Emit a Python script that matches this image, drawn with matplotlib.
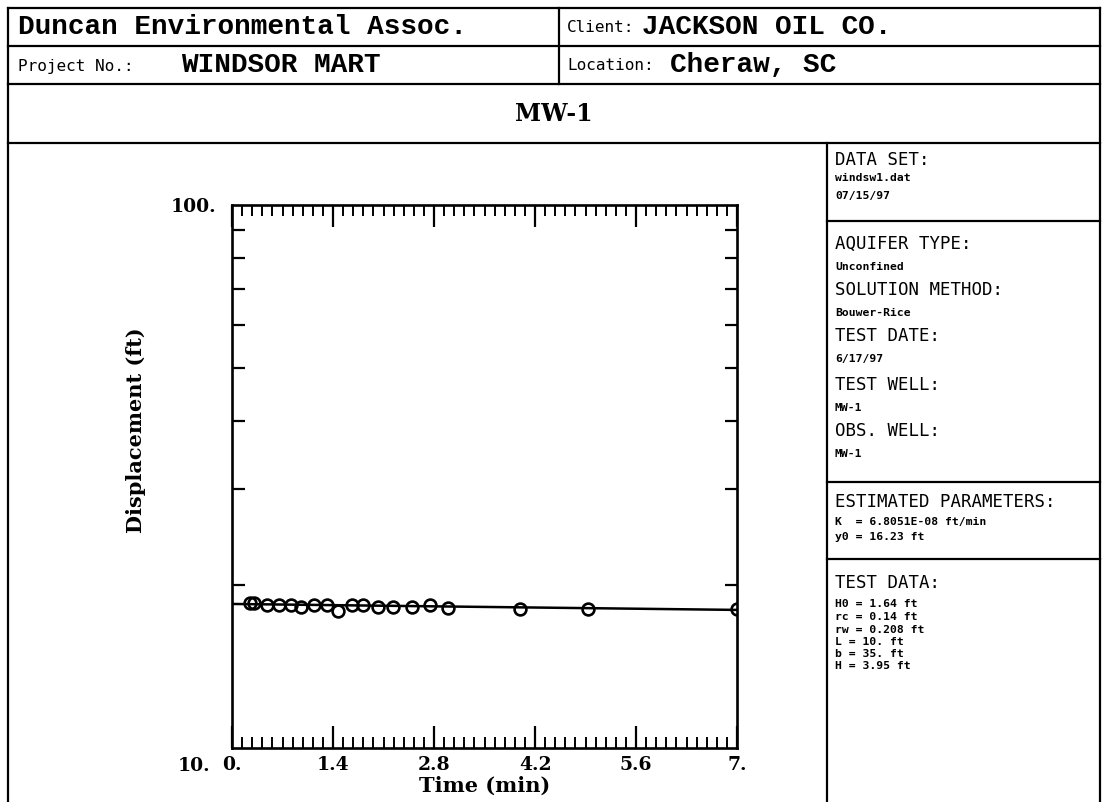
import matplotlib
matplotlib.use("Agg")
import matplotlib.pyplot as plt
from matplotlib.lines import Line2D
from matplotlib.ticker import FixedLocator, MultipleLocator, NullFormatter, FixedFormatter
import matplotlib.transforms as mtransforms

W, H = 1106, 802

# ---------------- data ----------------
time_min = [0.25, 0.30, 0.49, 0.65, 0.82, 0.96, 1.14, 1.32, 1.47, 1.66,
            1.82, 2.02, 2.23, 2.50, 2.74, 2.99, 3.99, 4.93, 7.00]
displacement_ft = [18.5, 18.5, 18.3, 18.3, 18.3, 18.2, 18.3, 18.3, 17.9, 18.3,
                   18.3, 18.2, 18.2, 18.2, 18.3, 18.1, 18.0, 18.0, 18.0]
fit_time = [0.0, 7.0]
fit_disp = [18.42, 17.96]

x_ticks = [0.0, 1.4, 2.8, 4.2, 5.6, 7.0]
x_tick_labels = ["0.", "1.4", "2.8", "4.2", "5.6", "7."]
y_ticks = [10, 100]
y_tick_labels = ["10.", "100."]
y_minor_ticks = [20, 30, 40, 50, 60, 70, 80, 90]

company = "Duncan Environmental Assoc."
client_label, client = "Client:", "JACKSON OIL CO."
project_label, project = "Project No.:", "WINDSOR MART"
location_label, location = "Location:", "Cheraw, SC"
title = "MW-1"
x_label = "Time (min)"
y_label = "Displacement (ft)"

panel_blocks = [
    [("DATA SET:", "h"), ("windsw1.dat", "v"), ("07/15/97", "v")],
    [("AQUIFER TYPE:", "h"), ("Unconfined", "v"), ("SOLUTION METHOD:", "h"),
     ("Bouwer-Rice", "v"), ("TEST DATE:", "h"), ("6/17/97", "v"),
     ("TEST WELL:", "h"), ("MW-1", "v"), ("OBS. WELL:", "h"), ("MW-1", "v")],
    [("ESTIMATED PARAMETERS:", "h"), ("K  = 6.8051E-08 ft/min", "v"), ("y0 = 16.23 ft", "v")],
    [("TEST DATA:", "h"), ("H0 = 1.64 ft", "v"), ("rc = 0.14 ft", "v"),
     ("rw = 0.208 ft", "v"), ("L = 10. ft", "v"), ("b = 35. ft", "v"), ("H = 3.95 ft", "v")],
]
# y pixel positions of each panel line (layout)
panel_ys = [
    [160, 178, 196],
    [244, 267, 290, 313, 336, 359, 385, 408, 431, 454],
    [502, 522, 537],
    [583, 604, 617, 630, 642, 654, 666],
]

# ---------------- figure ----------------
fig = plt.figure(figsize=(W / 100, H / 100), dpi=100)
fig.patch.set_facecolor("white")


def fx(x):
    return x / W


def fy(y):
    return 1 - y / H


def hline(y, x0, x1, lw=1.6):
    fig.add_artist(Line2D([fx(x0), fx(x1)], [fy(y), fy(y)],
                          transform=fig.transFigure, color="black", lw=lw))


def vline(x, y0, y1, lw=1.6):
    fig.add_artist(Line2D([fx(x), fx(x)], [fy(y0), fy(y1)],
                          transform=fig.transFigure, color="black", lw=lw))


# frame
hline(8, 8, 1100)
hline(46, 8, 1100)
hline(84, 8, 1100)
hline(143, 8, 1100)
vline(8, 8, 802)
vline(1100, 8, 802)
vline(559, 8, 84)
vline(827, 143, 802)
for yy in (221, 482, 559):
    hline(yy, 827, 1100)

MONO = "Liberation Mono"
SMONO = "DejaVu Sans Mono"
SERIF = "DejaVu Serif"

fig.text(fx(18), fy(27), company, family=MONO, weight="bold", fontsize=20, va="center")
fig.text(fx(567), fy(28), client_label, family=SMONO, fontsize=11.5, va="center")
fig.text(fx(642), fy(27), client, family=MONO, weight="bold", fontsize=20, va="center")
fig.text(fx(18), fy(66), project_label, family=SMONO, fontsize=11.5, va="center")
fig.text(fx(181), fy(65), project, family=MONO, weight="bold", fontsize=20, va="center")
fig.text(fx(567), fy(66), location_label, family=SMONO, fontsize=11.5, va="center")
fig.text(fx(670), fy(65), location, family=MONO, weight="bold", fontsize=20, va="center")
fig.text(fx(554), fy(114), title, family=SERIF, weight="bold", fontsize=17,
         ha="center", va="center")

for block, ys in zip(panel_blocks, panel_ys):
    for (txt, kind), yy in zip(block, ys):
        if kind == "h":
            fig.text(fx(835), fy(yy), txt, family=SMONO, fontsize=12.5, va="center")
        else:
            fig.text(fx(835), fy(yy), txt, family=SMONO, weight="bold", fontsize=8.2,
                     va="center")

# ---------------- axes ----------------
ax = fig.add_axes([fx(232), fy(748), 505 / W, 543 / H])
ax.set_yscale("log")
ax.set_xlim(0, 7)
ax.set_ylim(10, 100)

ax.plot(fit_time, fit_disp, color="black", lw=1.8, zorder=2)
ax.plot(time_min, displacement_ft, linestyle="none", marker="o", markersize=8.5,
        markerfacecolor="none", markeredgecolor="black", markeredgewidth=1.9, zorder=3)

for s in ax.spines.values():
    s.set_linewidth(1.9)

ax.xaxis.set_major_locator(FixedLocator(x_ticks))
ax.xaxis.set_major_formatter(FixedFormatter(x_tick_labels))
ax.xaxis.set_minor_locator(MultipleLocator(0.14))
ax.yaxis.set_major_locator(FixedLocator(y_ticks))
ax.yaxis.set_major_formatter(FixedFormatter(y_tick_labels))
ax.yaxis.set_minor_locator(FixedLocator(y_minor_ticks))
ax.yaxis.set_minor_formatter(NullFormatter())

ax.tick_params(axis="x", which="major", direction="in", top=True, bottom=True,
               length=16, width=1.6, pad=6)
ax.tick_params(axis="x", which="minor", direction="in", top=True, bottom=True,
               length=8, width=1.4)
ax.tick_params(axis="y", which="major", direction="in", left=True, right=True,
               length=0, pad=11)
ax.tick_params(axis="y", which="minor", direction="in", left=True, right=True,
               length=9, width=1.6)

for lab in ax.get_xticklabels() + ax.get_yticklabels():
    lab.set_fontfamily(SERIF)
    lab.set_fontweight("bold")
    lab.set_fontsize(13.5)

# shift the "10." label down (and slightly left) to the x tick-label row
ylabs = ax.get_yticklabels()
ylabs[0].set_transform(ylabs[0].get_transform() +
                       mtransforms.ScaledTranslation(-6 / 100, -16 / 100, fig.dpi_scale_trans))

ax.set_xlabel(x_label, family=SERIF, weight="bold", fontsize=15, labelpad=1)
ax.set_ylabel(y_label, family=SERIF, weight="bold", fontsize=15)
ax.yaxis.set_label_coords((146 - 232) / 505, (748 - 430) / 543)

fig.savefig("out.png", dpi=100, facecolor="white")
